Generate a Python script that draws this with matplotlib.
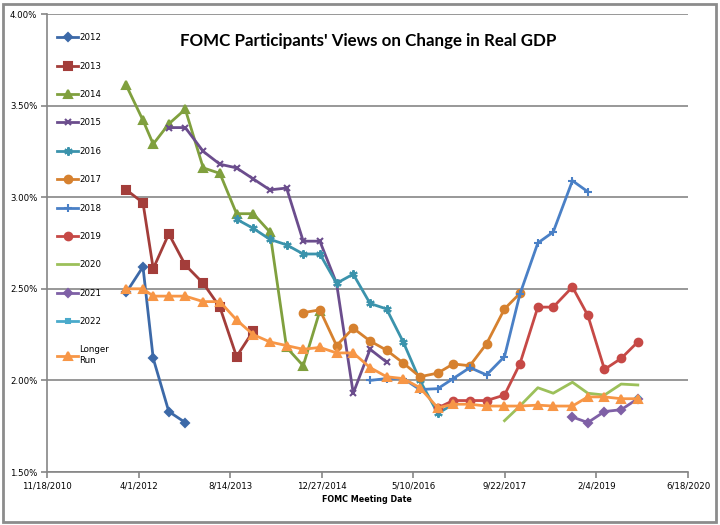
import matplotlib
matplotlib.use("Agg")
import matplotlib.pyplot as plt
import matplotlib.dates as mdates
from matplotlib.patches import Rectangle
from matplotlib.ticker import FuncFormatter
from datetime import date, timedelta

# SEP meeting dates
meetings = ["2012-01-25", "2012-04-25", "2012-06-20", "2012-09-13", "2012-12-12",
            "2013-03-20", "2013-06-19", "2013-09-18", "2013-12-18",
            "2014-03-19", "2014-06-18", "2014-09-17", "2014-12-17",
            "2015-03-18", "2015-06-17", "2015-09-17", "2015-12-16",
            "2016-03-16", "2016-06-15", "2016-09-21", "2016-12-14",
            "2017-03-15", "2017-06-14", "2017-09-20", "2017-12-13",
            "2018-03-21", "2018-06-13", "2018-09-26", "2018-12-19",
            "2019-03-20", "2019-06-19", "2019-09-18"]

# projections (%), and index of first meeting for each series
g2012 = [2.48, 2.62, 2.12, 1.83, 1.77]
g2013 = [3.04, 2.97, 2.61, 2.80, 2.63, 2.53, 2.40, 2.13, 2.27]
g2014 = [3.61, 3.42, 3.29, 3.40, 3.48, 3.16, 3.13, 2.91, 2.91, 2.81, 2.18, 2.08, 2.38]
g2015 = [3.38, 3.38, 3.25, 3.18, 3.16, 3.10, 3.04, 3.05, 2.76, 2.76, 2.53, 1.93, 2.17, 2.10]
g2016 = [2.88, 2.83, 2.77, 2.74, 2.69, 2.69, 2.53, 2.58, 2.42, 2.39, 2.21, 2.00, 1.82, 1.87]
g2017 = [2.37, 2.385, 2.19, 2.285, 2.215, 2.165, 2.095, 2.02, 2.04, 2.09, 2.08, 2.20, 2.39, 2.475]
g2018 = [2.00, 2.01, 2.01, 1.95, 1.955, 2.01, 2.07, 2.03, 2.13, 2.47, 2.75, 2.81, 3.09, 3.03]
g2019 = [1.85, 1.89, 1.89, 1.89, 1.92, 2.09, 2.40, 2.40, 2.51, 2.355, 2.06, 2.12, 2.21]
g2020 = [1.78, 1.86, 1.96, 1.93, 1.99, 1.93, 1.92, 1.98, 1.975]
g2021 = [1.80, 1.77, 1.83, 1.84, 1.90]
g2022 = [1.90]
longer_run = [2.50, 2.50, 2.46, 2.46, 2.46, 2.43, 2.43, 2.33, 2.25, 2.21, 2.19, 2.17,
              2.18, 2.15, 2.15, 2.07, 2.02, 2.01, 1.96, 1.85, 1.87, 1.87, 1.86, 1.86,
              1.86, 1.865, 1.86, 1.86, 1.91, 1.91, 1.90, 1.90]

series = [
    ("2012", g2012, 0, "#3C69A8", "D", 4.5),
    ("2013", g2013, 0, "#A33D3A", "s", 5.5),
    ("2014", g2014, 0, "#80A03E", "^", 6),
    ("2015", g2015, 3, "#6B4D8D", "x", 5),
    ("2016", g2016, 7, "#3B93AC", (6, 2, 0), 6),
    ("2017", g2017, 11, "#D6812F", "o", 5.5),
    ("2018", g2018, 15, "#4A80C6", "+", 6),
    ("2019", g2019, 19, "#C64946", "o", 5.5),
    ("2020", g2020, 23, "#9CC05A", "None", 5),
    ("2021", g2021, 27, "#7F60A6", "D", 4.5),
    ("2022", g2022, 31, "#4AAACB", "s", 3.5),
    ("Longer\nRun", longer_run, 0, "#F79646", "^", 6),
]

dates = [date.fromisoformat(d) for d in meetings]

fig = plt.figure(figsize=(7.2, 5.25), dpi=100)
ax = fig.add_axes([47 / 720, 1 - 472 / 525, 641 / 720, 458 / 525])

for name, vals, start, color, marker, ms in series:
    x = dates[start:start + len(vals)]
    ax.plot(x, vals, color=color, lw=2.0, marker=marker, ms=ms,
            mew=1.5, label=name, solid_joinstyle="round")

x0 = date(2010, 11, 18)
xticks = [x0 + timedelta(days=500 * k) for k in range(8)]
ax.set_xlim(mdates.date2num(xticks[0]), mdates.date2num(xticks[-1]))
ax.set_xticks(mdates.date2num(xticks))
ax.xaxis.set_major_formatter(FuncFormatter(
    lambda v, p: "{d.month}/{d.day}/{d.year}".format(d=mdates.num2date(v))))
ax.set_ylim(1.5, 4.0)
ax.set_yticks([1.5, 2.0, 2.5, 3.0, 3.5, 4.0])
ax.yaxis.set_major_formatter(FuncFormatter(lambda v, p: "%.2f%%" % v))

grey = "#868686"
ax.grid(axis="y", color=grey, lw=1.2)
ax.set_axisbelow(True)
for s in ["top", "right"]:
    ax.spines[s].set_visible(False)
for s in ["left", "bottom"]:
    ax.spines[s].set_color(grey)
    ax.spines[s].set_linewidth(1.2)
ax.tick_params(length=4, width=1.2, color=grey, labelsize=6.2, pad=3)

fig.text(0.511, 1 - 41 / 525, "FOMC Participants' Views on Change in Real GDP",
         ha="center", va="center", fontsize=12.2, fontweight="bold", family="Lato")
fig.text(367 / 720, 1 - 500 / 525, "FOMC Meeting Date", ha="center", va="center",
         fontsize=5.8, fontweight="bold")

leg = ax.legend(loc="upper left", bbox_to_anchor=(53 / 720, 1 - 29 / 525),
                bbox_transform=fig.transFigure, frameon=False, fontsize=6.2,
                labelspacing=2.25, handlelength=2.4, handletextpad=0.15,
                borderpad=0)

fig.patches.append(Rectangle((3 / 720, 3 / 525), 713 / 720, 518 / 525,
                             transform=fig.transFigure, fill=False,
                             edgecolor="#8c8c8c", lw=2))

fig.savefig("out.png", dpi=100)
